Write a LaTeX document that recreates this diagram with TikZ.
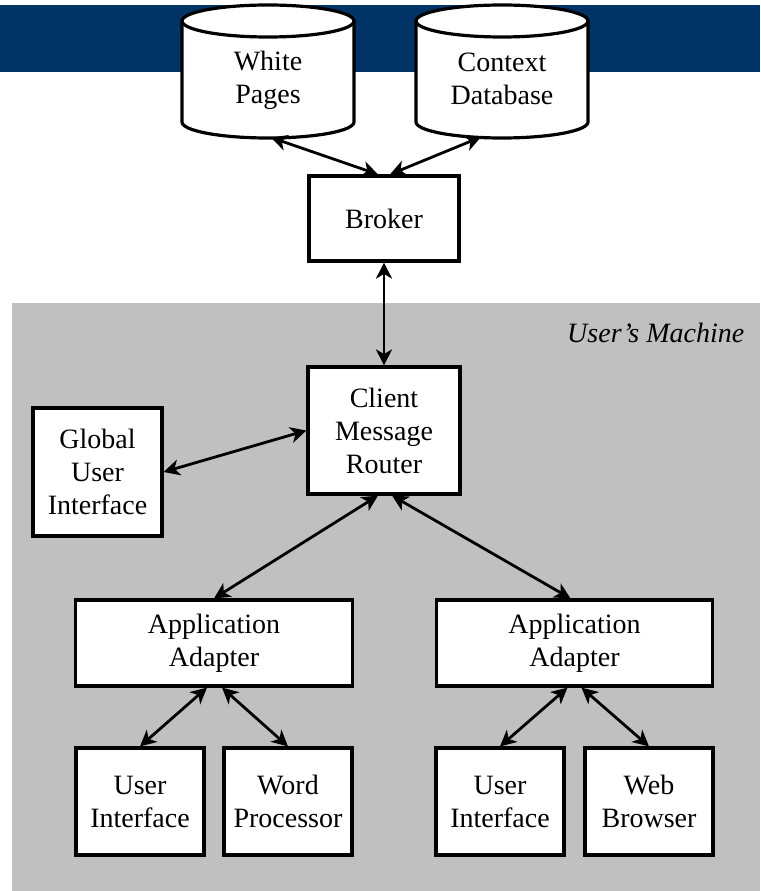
\documentclass[tikz,border=0pt]{standalone}
\usepackage{fontspec}
\setmainfont{Liberation Serif}
\usetikzlibrary{arrows.meta,positioning}
\definecolor{bandblue}{RGB}{0,51,102}
\definecolor{machinegray}{RGB}{192,192,192}

\begin{document}
\begin{tikzpicture}[x=0.75pt,y=-0.75pt,
    font=\fontsize{21}{24.75}\selectfont,
    box/.style={draw,line width=2.4pt,fill=white,align=center,inner sep=0pt},
    smallbox/.style={box,minimum width=96pt,minimum height=80.25pt},
    adapter/.style={box,minimum width=207.5pt,minimum height=64.5pt},
    dbline/.style={draw,line width=2.4pt,fill=white},
    dbtext/.style={align=center,inner sep=0pt},
    link/.style={{Stealth[length=12pt,width=12pt,inset=3.5pt]}-{Stealth[length=12pt,width=12pt,inset=3.5pt]},
      line width=2.1pt}]
  \useasboundingbox (0,0) rectangle (760,891);
  \fill[bandblue] (0,5) rectangle (760,72);
  \fill[machinegray] (12,303) rectangle (760,891);

  \foreach \cx in {268,502} {
    \path[dbline] (\cx-86,21) -- (\cx-86,122)
      arc[start angle=180,end angle=360,x radius=64.5pt,y radius=12pt]
      -- (\cx+86,21)
      arc[start angle=0,end angle=180,x radius=64.5pt,y radius=12pt] -- cycle;
    \draw[line width=2.4pt] (\cx-86,21)
      arc[start angle=180,end angle=360,x radius=64.5pt,y radius=12pt];
  }
  \node[dbtext] (wpages) at (268,80) {White\\Pages};
  \node[dbtext] (cdata) at (502,78.5) {Context\\Database};
  \coordinate (wpagesbottom) at (271,137.5);
  \coordinate (cdatabottom) at (481,137);

  \node[box,minimum width=112.5pt,minimum height=63.75pt] (broker) at (384,218.5) {Broker};
  \node[anchor=east,font=\fontsize{21}{24.75}\selectfont\itshape] (machine) at (749,333) {User’s Machine};
  \node[box,minimum width=114pt,minimum height=95.25pt] (router) at (384,430.5) {Client\\Message\\Router};
  \node[box,minimum width=96.75pt,minimum height=96pt] (global) at (97.5,472) {Global\\User\\Interface};

  \node[adapter] (leftadapter) at (214,643) {Application\\Adapter};
  \node[adapter] (rightadapter) at (574.5,643) {Application\\Adapter};
  \node[smallbox] (leftui) at (140,801.5) {User\\Interface};
  \node[smallbox] (word) at (288,801.5) {Word\\Processor};
  \node[smallbox] (rightui) at (500,801.5) {User\\Interface};
  \node[smallbox] (browser) at (649,801.5) {Web\\Browser};

  \draw[link] ([xshift=-4.5pt]broker.north) -- (wpagesbottom);
  \draw[link] ([xshift=4.5pt]broker.north) -- (cdatabottom);
  \draw[link] (broker) -- (router);
  \draw[link] (global.east) -- (router.west);
  \draw[link] ([xshift=-4.5pt]router.south) -- (leftadapter.north);
  \draw[link] ([xshift=6pt]router.south) -- ([xshift=-3pt]rightadapter.north);
  \draw[link] ([xshift=-5.25pt]leftadapter.south) -- (leftui.north);
  \draw[link] ([xshift=6pt]leftadapter.south) -- (word.north);
  \draw[link] ([xshift=-5.25pt]rightadapter.south) -- (rightui.north);
  \draw[link] ([xshift=5.25pt]rightadapter.south) -- (browser.north);
\end{tikzpicture}
\end{document}
